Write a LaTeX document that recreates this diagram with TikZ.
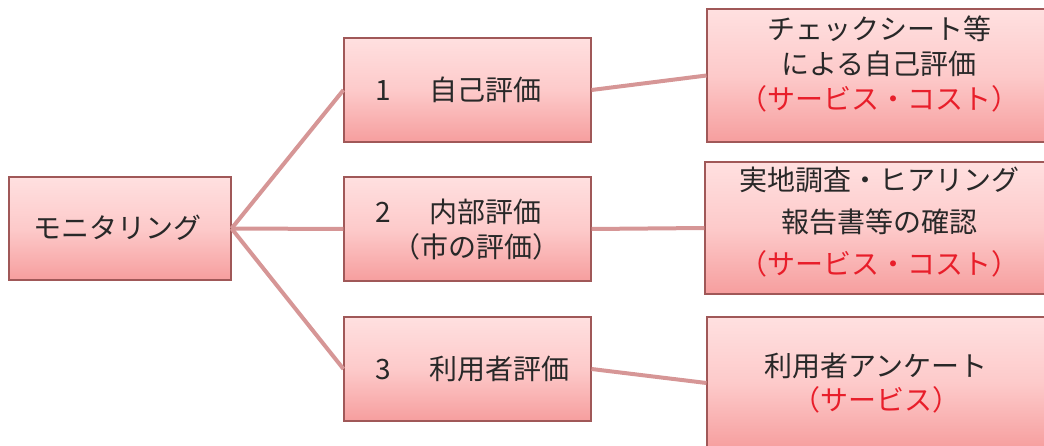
\documentclass[tikz,border=0pt]{standalone}
\usepackage{fontspec}
\setmainfont{Noto Sans CJK JP}
\definecolor{pktop}{RGB}{255,224,224}
\definecolor{pkmid}{RGB}{253,202,202}
\definecolor{pkbot}{RGB}{246,158,158}
\definecolor{boxedge}{RGB}{160,88,88}
\definecolor{linkcol}{RGB}{214,150,150}
\definecolor{txt}{RGB}{40,40,40}
\definecolor{redtxt}{RGB}{232,30,42}
\tikzset{
  box/.style={draw=boxedge, line width=1.1pt, top color=pktop, bottom color=pkbot, middle color=pkmid, inner sep=0pt, rectangle},
  link/.style={draw=linkcol, line width=4pt},
  lbl/.style={text=txt, inner sep=0pt, font=\fontsize{28}{35}\selectfont},
}
\begin{document}
\begin{tikzpicture}[x=1pt,y=-1pt]
\useasboundingbox (0,0) rectangle (1044,446);
% boxes
\node[box, minimum width=222pt, minimum height=103pt] (L) at (120,228.5) {};
\node[box, minimum width=247pt, minimum height=104pt] (M1) at (467.5,90) {};
\node[box, minimum width=247pt, minimum height=104pt] (M2) at (467.5,229) {};
\node[box, minimum width=247pt, minimum height=104pt] (M3) at (467.5,369) {};
\node[box, minimum width=345pt, minimum height=133pt] (R1) at (879.5,75.5) {};
\node[box, minimum width=347pt, minimum height=132pt] (R2) at (878.5,228) {};
\node[box, minimum width=345pt, minimum height=132pt] (R3) at (879.5,383) {};
% connectors
\draw[link] (L.east) -- (M1.west);
\draw[link] (L.east) -- (M2.west);
\draw[link] (L.east) -- (M3.west);
\draw[link] (M1.east) -- (R1.west);
\draw[link] (M2.east) -- (R2.west);
\draw[link] (M3.east) -- (R3.west);
% texts
\node[lbl] (Lt) at (117,228) {モニタリング};
\node[lbl, anchor=west] (M1t) at (375,90) {\makebox[54pt][l]{1}自己評価};
\node[lbl, anchor=west, align=left] (M2t) at (375,229.5) {\makebox[54pt][l]{2}内部評価\\\hspace*{17pt}（市の評価）};
\node[lbl, anchor=west] (M3t) at (375,369) {\makebox[54pt][l]{3}利用者評価};
\node[lbl, align=center] (R1t) at (879,64) {チェックシート等\\による自己評価\\\textcolor{redtxt}{（サービス・コスト）}};
\node[lbl, align=center, font=\fontsize{28}{42}\selectfont] (R2t) at (879,222) {実地調査・ヒアリング\\報告書等の確認\\\textcolor{redtxt}{（サービス・コスト）}};
\node[lbl, align=center, font=\fontsize{28}{34}\selectfont] (R3t) at (876,383) {利用者アンケート\\\textcolor{redtxt}{（サービス）}};
\end{tikzpicture}
\end{document}
